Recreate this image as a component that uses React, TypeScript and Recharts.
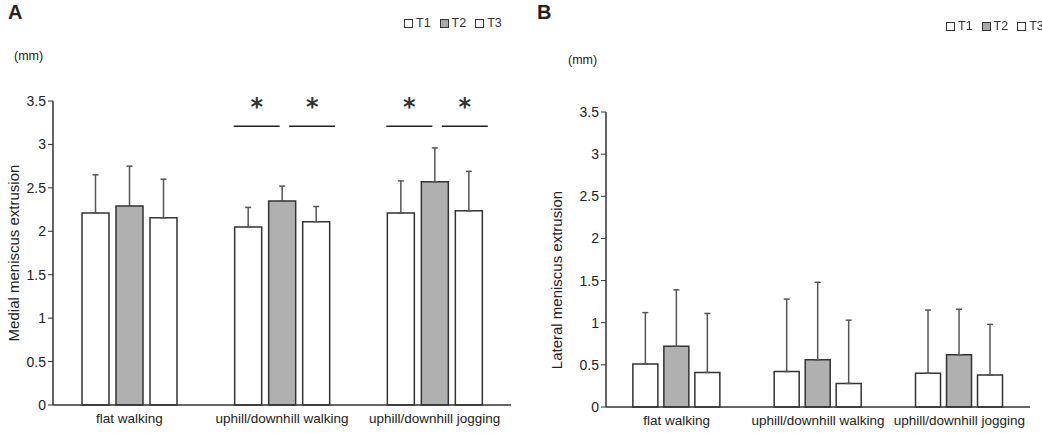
import React from 'react';
import { Bar, BarChart, ErrorBar, XAxis, YAxis } from 'recharts';

const categories = ['flat walking', 'uphill/downhill walking', 'uphill/downhill jogging'];
const seriesNames = ['T1', 'T2', 'T3'];
const yTicks = [0, 0.5, 1, 1.5, 2, 2.5, 3, 3.5];

// panel A: medial meniscus extrusion (mm), mean and upper SD
const medialT1 = [2.21, 2.05, 2.21];
const medialT2 = [2.29, 2.35, 2.57];
const medialT3 = [2.155, 2.11, 2.235];
const medialSdT1 = [0.44, 0.225, 0.37];
const medialSdT2 = [0.46, 0.17, 0.39];
const medialSdT3 = [0.445, 0.175, 0.455];
const medialSignificant = [false, true, true];
const medialSigLevel = 3.21;

// panel B: lateral meniscus extrusion (mm)
const lateralT1 = [0.51, 0.42, 0.4];
const lateralT2 = [0.72, 0.56, 0.62];
const lateralT3 = [0.41, 0.28, 0.38];
const lateralSdT1 = [0.61, 0.86, 0.75];
const lateralSdT2 = [0.67, 0.92, 0.54];
const lateralSdT3 = [0.7, 0.75, 0.6];

const buildRows = (t1: number[], t2: number[], t3: number[], s1: number[], s2: number[], s3: number[]) =>
  categories.map((name, i) => ({
    name,
    t1: t1[i],
    t2: t2[i],
    t3: t3[i],
    e1: [0, s1[i]],
    e2: [0, s2[i]],
    e3: [0, s3[i]],
  }));

const medialRows = buildRows(medialT1, medialT2, medialT3, medialSdT1, medialSdT2, medialSdT3);
const lateralRows = buildRows(lateralT1, lateralT2, lateralT3, lateralSdT1, lateralSdT2, lateralSdT3);

const FONT = '"Liberation Sans", Arial, sans-serif';
const INK = '#222';
const GREY = '#b0b0b0';

const Legend = ({ left, top }: { left: number; top: number }) => (
  <div style={{ position: 'absolute', left, top, display: 'flex', fontFamily: FONT, fontSize: 12.5, color: '#333' }}>
    {seriesNames.map((s, i) => (
      <div key={s} style={{ display: 'flex', alignItems: 'center', marginRight: 9 }}>
        <span
          style={{
            display: 'inline-block',
            width: 7,
            height: 7,
            border: '1.3px solid #333',
            background: i === 1 ? '#a8a8a8' : '#fff',
            marginRight: 3,
          }}
        />
        {s}
      </div>
    ))}
  </div>
);

const SigMarks = (props: any) => {
  const { x, y, width, height, value, index } = props;
  if (!medialSignificant[index]) return null;
  const gap = 7;
  const zeroY = y + height;
  const ppu = height / value;
  const ly = zeroY - medialSigLevel * ppu;
  const t1Left = x - gap - width;
  const cx = x + width / 2;
  const segs = [
    [t1Left - 1, t1Left + 45],
    [cx + 7, cx + 53],
  ];
  return (
    <g>
      {segs.map(([a, b], k) => (
        <g key={k}>
          <line x1={a} x2={b} y1={ly} y2={ly} stroke={INK} strokeWidth={1.5} />
          <text x={(a + b) / 2} y={ly - 11} textAnchor="middle" fontSize={24} fontWeight="bold" fontFamily="DejaVu Sans" fill="#333">
            *
          </text>
        </g>
      ))}
    </g>
  );
};

type PanelProps = {
  rows: any[];
  width: number;
  margin: { top: number; right: number; bottom: number; left: number };
  barGap: number;
  withSig?: boolean;
};

const Panel = ({ rows, width, margin, barGap, withSig }: PanelProps) => (
  <BarChart width={width} height={433} data={rows} margin={margin} barGap={barGap} barCategoryGap="19%">
    <XAxis
      dataKey="name"
      tickLine={false}
      axisLine={{ stroke: '#333', strokeWidth: 1.5 }}
      tick={{ fontSize: 13.5, fill: INK, fontFamily: FONT }}
      tickMargin={2}
      height={24}
      interval={0}
    />
    <YAxis
      domain={[0, 3.5]}
      ticks={yTicks}
      width={40}
      axisLine={{ stroke: '#333', strokeWidth: 1.5 }}
      tickLine={{ stroke: '#333' }}
      tickSize={5}
      tickMargin={2}
      tick={{ fontSize: 14, fill: INK, fontFamily: FONT }}
    />
    <Bar dataKey="t1" fill="#fff" stroke="#333" strokeWidth={1.5} isAnimationActive={false}>
      <ErrorBar dataKey="e1" direction="y" width={3} stroke="#555" strokeWidth={1.5} />
    </Bar>
    <Bar
      dataKey="t2"
      fill={GREY}
      stroke="#333"
      strokeWidth={1.5}
      isAnimationActive={false}
      label={withSig ? (p: any) => <SigMarks {...p} /> : undefined}
    >
      <ErrorBar dataKey="e2" direction="y" width={3} stroke="#555" strokeWidth={1.5} />
    </Bar>
    <Bar dataKey="t3" fill="#fff" stroke="#333" strokeWidth={1.5} isAnimationActive={false}>
      <ErrorBar dataKey="e3" direction="y" width={3} stroke="#555" strokeWidth={1.5} />
    </Bar>
  </BarChart>
);

const abs = (left: number, top: number): React.CSSProperties => ({ position: 'absolute', left, top });

export default function App() {
  return (
    <div style={{ position: 'fixed', left: 0, top: 0, width: 1042, height: 433, background: '#fff', fontFamily: FONT, color: INK }}>
      <div style={abs(0, 0)}>
        <Panel rows={medialRows} width={520} margin={{ top: 101, right: 9, bottom: 4, left: 13 }} barGap={7} withSig />
      </div>
      <div style={abs(520, 0)}>
        <Panel rows={lateralRows} width={522} margin={{ top: 112, right: 12, bottom: 2, left: 46 }} barGap={6} />
      </div>

      <div style={{ ...abs(8, 1), fontSize: 20, fontWeight: 'bold' }}>A</div>
      <div style={{ ...abs(537, 1), fontSize: 20, fontWeight: 'bold' }}>B</div>
      <div style={{ ...abs(14, 49), fontSize: 12.5 }}>(mm)</div>
      <div style={{ ...abs(568, 53), fontSize: 12.5 }}>(mm)</div>
      <Legend left={404} top={16} />
      <Legend left={946} top={19} />

      <div
        style={{
          position: 'absolute',
          left: 13,
          top: 253,
          fontSize: 15,
          whiteSpace: 'nowrap',
          transform: 'translate(-50%, -50%) rotate(-90deg)',
        }}
      >
        Medial meniscus extrusion
      </div>
      <div
        style={{
          position: 'absolute',
          left: 556,
          top: 280,
          fontSize: 15,
          whiteSpace: 'nowrap',
          transform: 'translate(-50%, -50%) rotate(-90deg)',
        }}
      >
        Lateral meniscus extrusion
      </div>
    </div>
  );
}
